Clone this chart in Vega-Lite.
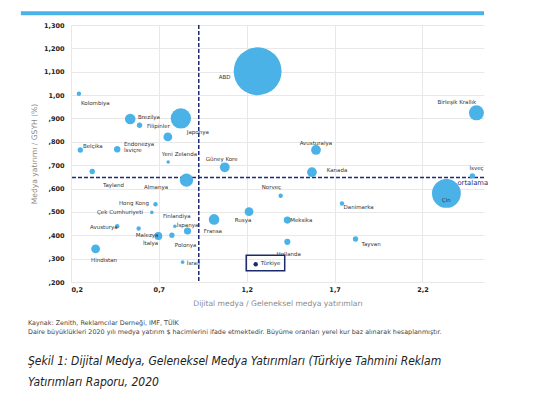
{
  "$schema": "https://vega.github.io/schema/vega-lite/v6.json",
  "width": 413,
  "height": 257,
  "autosize": {"type": "none"},
  "padding": {"left": 71, "top": 25, "right": 49, "bottom": 117},
  "background": "white",
  "config": {
    "view": {"stroke": null},
    "axis": {"domain": false, "ticks": false, "gridColor": "#e8e8e8", "gridWidth": 1, "labelOverlap": false,
      "labelFont": "DejaVu Sans", "labelFontWeight": "bold", "labelFontSize": 6.5, "labelColor": "#222",
      "titleFont": "DejaVu Sans", "titleFontWeight": "normal", "titleFontSize": 7.6, "titleColor": "#8a8a8a"}
  },
  "title": {
    "text": ["Kaynak: Zenith, Reklamcılar Derneği, IMF, TÜİK", "Daire büyüklükleri 2020 yılı medya yatırım $ hacimlerini ifade etmektedir. Büyüme oranları yerel kur baz alınarak hesaplanmıştır."],
    "subtitle": ["Şekil 1: Dijital  Medya, Geleneksel Medya Yatırımları (Türkiye Tahmini Reklam", "Yatırımları Raporu, 2020"],
    "orient": "bottom", "anchor": "start", "frame": "group", "dx": -43, "offset": 13,
    "font": "DejaVu Sans", "fontSize": 6.4, "fontWeight": "normal", "color": "#444", "lineHeight": 9,
    "subtitleFont": "DejaVu Sans Condensed, Lato", "subtitleFontStyle": "italic", "subtitleFontSize": 12,
    "subtitleColor": "#222", "subtitleLineHeight": 21, "subtitlePadding": 20
  },
  "data": {"values": [
    {"name": "Kolombiya", "x": 0.245, "y": 1.006, "vol": 1.7, "lx": 0.257, "ly": 0.965},
    {"name": "Brezilya", "x": 0.537, "y": 0.898, "vol": 9.8, "lx": 0.581, "ly": 0.905},
    {"name": "Filipinler", "x": 0.59, "y": 0.871, "vol": 2.5, "lx": 0.632, "ly": 0.867},
    {"name": "Japonya", "x": 0.825, "y": 0.9, "vol": 36, "lx": 0.859, "ly": 0.841},
    {"name": "", "x": 0.751, "y": 0.821, "vol": 6.8, "lx": 0.751, "ly": 0.821},
    {"name": "ABD", "x": 1.262, "y": 1.102, "vol": 200, "lx": 1.041, "ly": 1.076},
    {"name": "Belçika", "x": 0.253, "y": 0.765, "vol": 2.5, "lx": 0.268, "ly": 0.781},
    {"name": "Endonezya", "x": 0.463, "y": 0.768, "vol": 3.3, "lx": 0.501, "ly": 0.79},
    {"name": "İsviçre", "x": 0.463, "y": 0.768, "vol": 3.3, "lx": 0.501, "ly": 0.764},
    {"name": "Yeni Zelanda", "x": 0.753, "y": 0.714, "vol": 1.1, "lx": 0.717, "ly": 0.747},
    {"name": "Güney Kore", "x": 1.075, "y": 0.691, "vol": 8.3, "lx": 0.967, "ly": 0.726},
    {"name": "Tayland", "x": 0.321, "y": 0.673, "vol": 2.5, "lx": 0.382, "ly": 0.615},
    {"name": "Almanya", "x": 0.857, "y": 0.636, "vol": 15.4, "lx": 0.615, "ly": 0.606},
    {"name": "Birleşik Krallık", "x": 2.507, "y": 0.924, "vol": 19.7, "lx": 2.285, "ly": 0.969},
    {"name": "Avusturalya", "x": 1.594, "y": 0.765, "vol": 8.3, "lx": 1.501, "ly": 0.794},
    {"name": "Kanada", "x": 1.571, "y": 0.67, "vol": 8.3, "lx": 1.655, "ly": 0.679},
    {"name": "İsveç", "x": 2.484, "y": 0.654, "vol": 2.5, "lx": 2.467, "ly": 0.687},
    {"name": "Çin", "x": 2.336, "y": 0.579, "vol": 72.6, "lx": 2.31, "ly": 0.551},
    {"name": "Norveç", "x": 1.393, "y": 0.569, "vol": 1.7, "lx": 1.285, "ly": 0.606},
    {"name": "Danimarka", "x": 1.742, "y": 0.536, "vol": 1.7, "lx": 1.751, "ly": 0.521},
    {"name": "Meksika", "x": 1.431, "y": 0.465, "vol": 4.4, "lx": 1.447, "ly": 0.465},
    {"name": "Hollanda", "x": 1.431, "y": 0.372, "vol": 3.3, "lx": 1.37, "ly": 0.32},
    {"name": "Tayvan", "x": 1.819, "y": 0.384, "vol": 2.5, "lx": 1.853, "ly": 0.362},
    {"name": "Türkiye", "x": 1.251, "y": 0.276, "vol": 1.7, "lx": 1.28, "ly": 0.281},
    {"name": "Hong Kong", "x": 0.681, "y": 0.533, "vol": 1.7, "lx": 0.473, "ly": 0.538},
    {"name": "Çek Cumhuriyeti", "x": 0.66, "y": 0.498, "vol": 1.1, "lx": 0.348, "ly": 0.499},
    {"name": "Finlandiya", "x": 0.863, "y": 0.418, "vol": 4.4, "lx": 0.723, "ly": 0.482},
    {"name": "İspanya", "x": 0.791, "y": 0.439, "vol": 1.1, "lx": 0.802, "ly": 0.444},
    {"name": "Avusturya", "x": 0.463, "y": 0.439, "vol": 1.7, "lx": 0.308, "ly": 0.435},
    {"name": "Malezya", "x": 0.585, "y": 0.429, "vol": 1.7, "lx": 0.569, "ly": 0.401},
    {"name": "İtalya", "x": 0.697, "y": 0.397, "vol": 5.5, "lx": 0.609, "ly": 0.367},
    {"name": "Polonya", "x": 0.774, "y": 0.4, "vol": 2.5, "lx": 0.791, "ly": 0.358},
    {"name": "Fransa", "x": 1.014, "y": 0.468, "vol": 9.8, "lx": 0.956, "ly": 0.418},
    {"name": "Rusya", "x": 1.213, "y": 0.501, "vol": 6.8, "lx": 1.132, "ly": 0.465},
    {"name": "Hindistan", "x": 0.34, "y": 0.342, "vol": 6.8, "lx": 0.314, "ly": 0.294},
    {"name": "İsrail", "x": 0.835, "y": 0.285, "vol": 1.1, "lx": 0.859, "ly": 0.281}
  ]},
  "layer": [
    {
      "data": {"values": [{"x": -0.085, "x2": 2.55, "y": 1.35}]},
      "mark": {"type": "rule", "strokeWidth": 4, "color": "#4bb2e8"},
      "encoding": {
        "x": {"field": "x", "type": "quantitative",
          "scale": {"domain": [0.2, 2.55], "nice": false, "zero": false},
          "axis": {"values": [0.2, 0.7, 1.2, 1.7, 2.2], "tickCount": 5, "labelExpr": "replace(format(datum.value, '.1f'), '.', ',')", "labelPadding": 4, "titlePadding": 7, "labelOverlap": false},
          "title": "Dijital medya / Geleneksel medya yatırımları"},
        "x2": {"field": "x2"},
        "y": {"field": "y", "type": "quantitative",
          "scale": {"domain": [0.2, 1.3], "nice": false, "zero": false},
          "axis": {"values": [0.2, 0.3, 0.4, 0.5, 0.6, 0.7, 0.8, 0.9, 1, 1.1, 1.2, 1.3], "tickCount": 12,
            "labelExpr": "datum.value > 1.05 ? replace(format(datum.value, '.3f'), '.', ',') : (datum.value > 0.95 ? '1,00' : ',' + format(datum.value * 1000, '.0f'))",
            "labelPadding": 7, "titlePadding": 5, "labelOverlap": false},
          "title": "Medya yatırımı / GSYH (%)"}
      }
    },
    {
      "data": {"values": [{"v": 0.927}]},
      "mark": {"type": "rule", "strokeWidth": 1.5, "strokeDash": [4, 2], "color": "#1f2a78"},
      "encoding": {"x": {"field": "v", "type": "quantitative"}}
    },
    {
      "data": {"values": [{"v": 0.647}]},
      "mark": {"type": "rule", "strokeWidth": 1.5, "strokeDash": [4, 2], "color": "#1f2a78"},
      "encoding": {"y": {"field": "v", "type": "quantitative"}}
    },
    {
      "mark": {"type": "circle", "opacity": 1},
      "encoding": {
        "x": {"field": "x", "type": "quantitative"},
        "y": {"field": "y", "type": "quantitative"},
        "size": {"field": "vol", "type": "quantitative", "scale": {"domain": [0, 200], "range": [0, 2290], "zero": true}, "legend": null},
        "color": {"condition": {"test": "datum.name === 'Türkiye'", "value": "#1b2a6b"}, "value": "#4bb2e8"},
        "order": {"field": "vol", "type": "quantitative", "sort": "descending"}
      }
    },
    {
      "mark": {"type": "text", "align": "left", "baseline": "middle", "font": "DejaVu Sans", "fontSize": 5.5, "color": "#333"},
      "encoding": {
        "x": {"field": "lx", "type": "quantitative"},
        "y": {"field": "ly", "type": "quantitative"},
        "text": {"field": "name"}
      }
    },
    {
      "data": {"values": [{"x": 1.197, "x2": 1.416, "y": 0.314, "y2": 0.248}]},
      "mark": {"type": "rect", "fill": null, "stroke": "#1b2a6b", "strokeWidth": 1.5},
      "encoding": {
        "x": {"field": "x", "type": "quantitative"},
        "x2": {"field": "x2"},
        "y": {"field": "y", "type": "quantitative"},
        "y2": {"field": "y2"}
      }
    },
    {
      "data": {"values": [{"x": 2.399, "y": 0.623, "t": "ortalama"}]},
      "mark": {"type": "text", "align": "left", "baseline": "middle", "font": "DejaVu Sans", "fontSize": 6.8, "color": "#1f2a78"},
      "encoding": {
        "x": {"field": "x", "type": "quantitative"},
        "y": {"field": "y", "type": "quantitative"},
        "text": {"field": "t"}
      }
    }
  ]
}
